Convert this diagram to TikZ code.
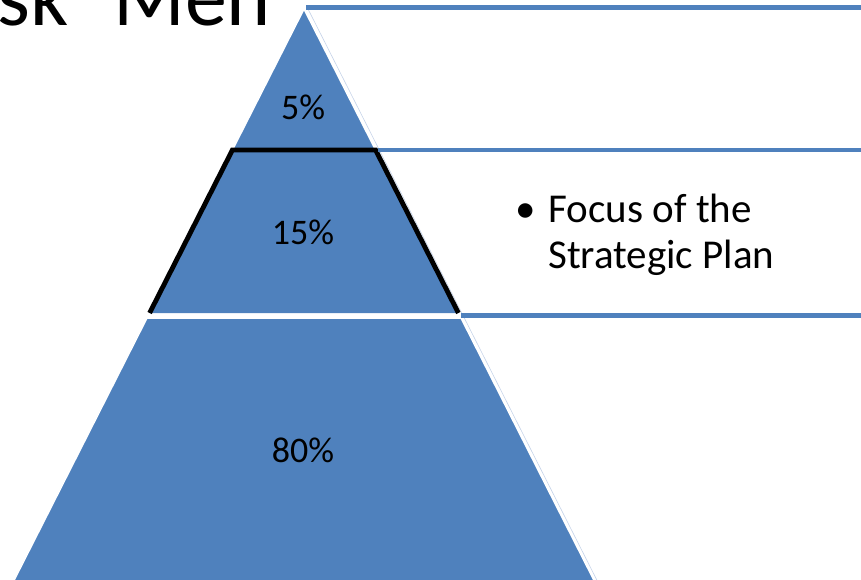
\documentclass[tikz,border=0pt]{standalone}
\usepackage{fontspec}
\setmainfont{Carlito}
\definecolor{pyblue}{HTML}{4F81BD}
\definecolor{pyshade}{HTML}{C5D3E8}
\begin{document}
\begin{tikzpicture}[x=1pt,y=-1pt,
  seg/.style={fill=pyblue,draw=white,line width=1.5pt,line join=miter},
  rule/.style={draw=pyblue,line width=4.5pt},
  lbl/.style={font=\fontsize{36}{43}\selectfont,inner sep=0pt},
  bul/.style={font=\fontsize{41}{46}\selectfont,inner sep=0pt,align=left},
  ttl/.style={font=\fontsize{84}{90}\selectfont,inner sep=0pt,anchor=base west}]
\useasboundingbox (0,0) rectangle (861,579);
\clip (0,0) rectangle (861,579);
% coordinates of pyramid (apex 304,9 ; half-width slope 0.508)
\coordinate (apex) at (304,9);
\coordinate (t1l) at (232.4,150);
\coordinate (t1r) at (375.6,150);
\coordinate (b2l) at (149.6,313);
\coordinate (b2r) at (458.4,313);
\coordinate (t3l) at (147.0,318);
\coordinate (t3r) at (461.0,318);
\coordinate (b3l) at (-1.0,610);
\coordinate (b3r) at (609.0,610);
% title (partly cut)
\node[ttl] (ttla) at (-3,25) {sk};
\node[ttl] (ttlb) at (113,25) {Men};
% faint shade along right edge
\draw[pyshade,line width=0.6pt] (306.5,6) -- (612,610);
% segments
\path[seg] (apex) -- (t1r) -- (t1l) -- cycle;
\path[seg] (t3l) -- (t3r) -- (b3r) -- (b3l) -- cycle;
\path[fill=pyblue] (t1l) -- (t1r) -- (b2r) -- (b2l) -- cycle;
\draw[black,line width=4.8pt,line join=miter] (b2l) -- (t1l) -- (t1r) -- (b2r);
% rules
\coordinate (r1a) at (306,7.5);  \coordinate (r1b) at (861,7.5);
\coordinate (r2a) at (378,150);  \coordinate (r2b) at (861,150);
\coordinate (r3a) at (461,315.5);\coordinate (r3b) at (861,315.5);
\draw[rule] (r1a) -- (r1b);
\draw[rule] (r2a) -- (r2b);
\draw[rule] (r3a) -- (r3b);
% labels
\node[lbl] (p5) at (303,107) {5\%};
\node[lbl] (p15) at (303,232) {15\%};
\node[lbl] (p80) at (303,450) {80\%};
\node[bul,anchor=north west] (bt) at (515,194) {\textbullet\hspace{13pt}Focus of the\\\hspace{33pt}Strategic Plan};
\end{tikzpicture}
\end{document}
